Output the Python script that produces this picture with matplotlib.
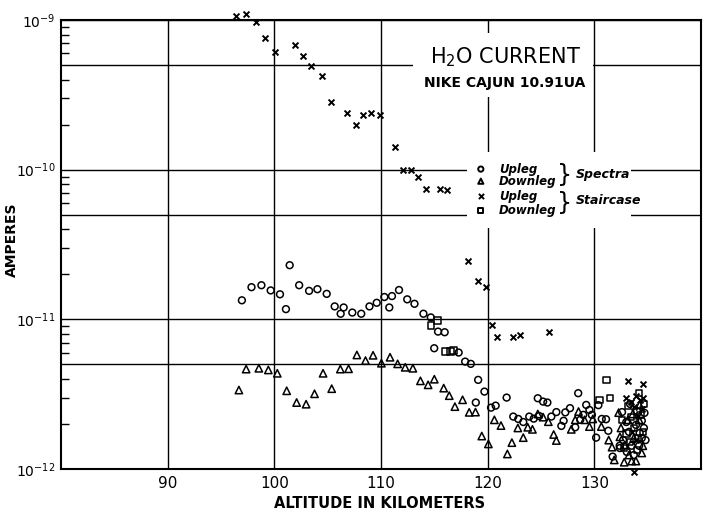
import matplotlib
matplotlib.use("Agg")
import matplotlib.pyplot as plt
from matplotlib.patches import Rectangle
from matplotlib.ticker import FixedLocator, NullFormatter

# -------- DATA -------- #
# Spectra, upleg (circles)
spec_up_alt = [96.96, 97.86, 98.79, 99.66, 100.53, 101.09, 101.44, 102.33, 103.26, 104.04,
               104.91, 105.66, 106.22, 106.50, 107.31, 108.15, 108.92, 109.60, 110.32, 110.78,
               111.03, 111.69, 112.46, 113.14, 113.98, 114.67, 115.35, 115.97, 114.99, 117.28,
               117.89, 118.42, 119.11, 119.70, 118.89, 120.32, 120.75, 121.78, 122.40, 122.87,
               123.34, 123.90, 124.32, 124.70, 125.20, 125.60, 124.83, 125.97, 126.44, 126.91,
               127.12, 127.28, 127.72, 128.49, 129.24, 129.54, 129.77, 128.96, 128.21, 128.68,
               130.17, 130.38, 130.70, 131.10, 131.31, 131.72, 132.38,
               132.6, 133.0, 133.25, 132.7, 133.5, 133.9, 134.25, 134.45, 134.45, 134.2,
               134.7, 134.65, 133.05, 133.7, 132.4, 133.35, 134.0, 134.8]
spec_up_amp = [1.34e-11, 1.64e-11, 1.69e-11, 1.56e-11, 1.47e-11, 1.17e-11, 2.30e-11, 1.69e-11, 1.55e-11, 1.59e-11,
               1.48e-11, 1.22e-11, 1.09e-11, 1.20e-11, 1.11e-11, 1.09e-11, 1.22e-11, 1.29e-11, 1.41e-11, 1.20e-11,
               1.43e-11, 1.57e-11, 1.36e-11, 1.27e-11, 1.09e-11, 1.03e-11, 8.28e-12, 8.20e-12, 6.41e-12, 6.0e-12,
               5.22e-12, 5.04e-12, 3.94e-12, 3.29e-12, 2.78e-12, 2.57e-12, 2.65e-12, 3.0e-12, 2.24e-12, 2.16e-12,
               2.06e-12, 2.24e-12, 2.17e-12, 2.97e-12, 2.82e-12, 2.78e-12, 2.26e-12, 2.24e-12, 2.40e-12, 1.94e-12,
               2.10e-12, 2.39e-12, 2.55e-12, 3.21e-12, 2.68e-12, 2.48e-12, 2.30e-12, 2.30e-12, 1.90e-12, 2.13e-12,
               1.62e-12, 2.67e-12, 2.16e-12, 2.15e-12, 1.80e-12, 1.21e-12, 1.43e-12,
               2.40e-12, 2.06e-12, 1.77e-12, 1.56e-12, 1.43e-12, 1.97e-12, 1.74e-12, 2.10e-12, 1.61e-12, 1.43e-12,
               2.37e-12, 1.88e-12, 1.30e-12, 1.24e-12, 1.38e-12, 2.72e-12, 2.44e-12, 1.56e-12]

# Spectra, downleg (triangles)
spec_dn_alt = [96.68, 97.36, 98.55, 99.44, 100.28, 101.16, 102.09, 102.98, 103.77, 104.57,
               105.38, 106.19, 106.96, 107.74, 108.55, 109.26, 110.04, 110.85, 111.56, 112.27,
               112.99, 113.70, 114.42, 115.00, 115.88, 116.40, 116.93, 117.65, 118.27, 118.86,
               119.45, 120.07, 120.63, 121.25, 121.85, 122.27, 122.83, 123.34, 123.76, 124.20,
               124.70, 125.20, 125.69, 126.19, 126.44, 127.84, 128.21, 128.52, 129.08, 129.54,
               129.86, 130.66, 131.35, 131.66, 131.87, 132.28,
               132.5, 132.85, 133.25, 132.8, 133.5, 133.9, 134.45, 133.15, 133.7, 134.2,
               134.55, 132.4, 133.6, 134.25]
spec_dn_amp = [3.37e-12, 4.65e-12, 4.71e-12, 4.59e-12, 4.36e-12, 3.33e-12, 2.78e-12, 2.71e-12, 3.18e-12, 4.36e-12,
               3.44e-12, 4.65e-12, 4.67e-12, 5.78e-12, 5.30e-12, 5.75e-12, 5.09e-12, 5.58e-12, 5.04e-12, 4.78e-12,
               4.71e-12, 3.88e-12, 3.65e-12, 3.98e-12, 3.47e-12, 3.09e-12, 2.61e-12, 2.90e-12, 2.39e-12, 2.40e-12,
               1.66e-12, 1.47e-12, 2.13e-12, 1.95e-12, 1.26e-12, 1.50e-12, 1.88e-12, 1.62e-12, 1.90e-12, 1.84e-12,
               2.33e-12, 2.22e-12, 2.07e-12, 1.70e-12, 1.55e-12, 1.84e-12, 2.13e-12, 2.42e-12, 2.13e-12, 1.92e-12,
               2.16e-12, 1.92e-12, 1.56e-12, 1.40e-12, 1.15e-12, 2.38e-12,
               1.88e-12, 1.45e-12, 1.24e-12, 1.11e-12, 1.13e-12, 1.13e-12, 1.28e-12, 2.13e-12, 1.61e-12, 2.13e-12,
               1.43e-12, 1.64e-12, 2.33e-12, 2.68e-12]

# Staircase, upleg (x)
stair_up_alt = [96.40, 97.30, 98.32, 99.11, 100.09, 101.90, 102.65, 103.45, 104.45, 105.31,
                106.84, 107.64, 108.36, 109.08, 109.94, 111.28, 112.09, 112.77, 113.46, 114.20,
                115.51, 116.19, 118.12, 119.05, 119.89, 120.38, 120.85, 122.40, 123.02, 125.76,
                133.18, 134.52, 133.68,
                133.0, 133.45, 133.9, 134.25, 134.55, 133.7, 134.1, 134.45, 133.5, 133.9]
stair_up_amp = [1.06e-9, 1.09e-9, 9.7e-10, 7.6e-10, 6.1e-10, 6.8e-10, 5.75e-10, 4.9e-10, 4.2e-10, 2.85e-10,
                2.38e-10, 1.99e-10, 2.31e-10, 2.38e-10, 2.33e-10, 1.41e-10, 9.95e-11, 9.95e-11, 8.97e-11, 7.43e-11,
                7.43e-11, 7.31e-11, 2.47e-11, 1.80e-11, 1.64e-11, 9.1e-12, 7.66e-12, 7.66e-12, 7.83e-12, 8.28e-12,
                3.87e-12, 3.68e-12, 9.5e-13,
                2.98e-12, 2.81e-12, 3.08e-12, 2.90e-12, 2.98e-12, 2.60e-12, 2.26e-12, 2.52e-12, 1.77e-12, 1.56e-12]

# Staircase, downleg (squares)
stair_dn_alt = [115.32, 114.67, 116.03, 116.50, 116.81, 131.16, 131.47, 130.48, 134.18,
                132.6, 133.0, 133.35, 133.7, 134.1, 134.35, 134.65, 133.45, 132.8, 134.0,
                133.15, 134.55]
stair_dn_amp = [9.8e-12, 9.08e-12, 6.08e-12, 6.08e-12, 6.18e-12, 3.94e-12, 2.97e-12, 2.90e-12, 3.21e-12,
                2.13e-12, 1.72e-12, 1.52e-12, 1.88e-12, 1.61e-12, 2.30e-12, 2.72e-12, 2.23e-12, 1.38e-12, 1.34e-12,
                2.64e-12, 1.77e-12]

x_ticks = [90, 100, 110, 120, 130]
y_grid = [1e-12, 5e-12, 1e-11, 5e-11, 1e-10, 5e-10, 1e-9]
decades = [1e-12, 1e-11, 1e-10, 1e-9]
decade_labels = ["$10^{-12}$", "$10^{-11}$", "$10^{-10}$", "$10^{-9}$"]

plt.rcParams['font.family'] = ['DejaVu Sans']
plt.rcParams['mathtext.fontset'] = 'dejavusans'

fig = plt.figure(figsize=(7.05, 5.16), dpi=100)
ax = fig.add_axes([0.0865, 0.0911, 0.9078, 0.8701])

ax.set_yscale('log')
ax.set_xlim(80, 140)
ax.set_ylim(1e-12, 1e-9)

# grid from major ticks, tick marks hidden
ax.xaxis.set_major_locator(FixedLocator(x_ticks))
ax.set_xticklabels([str(t) for t in x_ticks])
ax.yaxis.set_major_locator(FixedLocator(y_grid))
ax.yaxis.set_minor_locator(FixedLocator([m * d for d in decades[:-1] for m in range(2, 10)]))
ax.yaxis.set_minor_formatter(NullFormatter())
ax.set_yticklabels([decade_labels[decades.index(v)] if v in decades else "" for v in y_grid])
ax.tick_params(axis='x', which='major', length=0, labelsize=11, pad=5)
ax.tick_params(axis='y', which='major', length=0, labelsize=10, pad=4)
ax.tick_params(axis='y', which='minor', direction='in', length=6, width=1)
ax.tick_params(axis='x', which='minor', length=0)
ax.set_axisbelow(True)
ax.grid(True, which='major', color='black', linewidth=1.0)
for s in ax.spines.values():
    s.set_linewidth(1.5)

# white patches that break the grid behind the title and key
ax.add_patch(Rectangle((0.55, 0.829), 0.281, 0.142, transform=ax.transAxes,
                       facecolor='white', edgecolor='none', zorder=1))
ax.add_patch(Rectangle((0.634, 0.537), 0.257, 0.169, transform=ax.transAxes,
                       facecolor='white', edgecolor='none', zorder=1))

mk = dict(facecolors='none', edgecolors='black', linewidths=1.1, clip_on=False, zorder=3)
ax.scatter(spec_up_alt, spec_up_amp, marker='o', s=24, **mk)
ax.scatter(spec_dn_alt, spec_dn_amp, marker='^', s=28, **mk)
ax.scatter(stair_dn_alt, stair_dn_amp, marker='s', s=22, **mk)
ax.scatter(stair_up_alt, stair_up_amp, marker='x', s=18, color='black', linewidths=1.4,
           clip_on=False, zorder=3)

# title block
ax.text(0.695, 0.918, "H$_2$O CURRENT", transform=ax.transAxes, ha='center', va='center',
        fontsize=15, zorder=4)
ax.text(0.694, 0.860, "NIKE CAJUN 10.91UA", transform=ax.transAxes, ha='center', va='center',
        fontsize=10, fontweight='bold', zorder=4)

# hand-drawn key
key_rows = [(0.668, 'o', "Upleg"), (0.641, '^', "Downleg"), (0.607, 'x', "Upleg"), (0.576, 's', "Downleg")]
for yk, m, txt in key_rows:
    if m == 'x':
        ax.scatter([0.656], [yk], marker='x', s=14, color='black', linewidths=1.4,
                   transform=ax.transAxes, zorder=4)
    else:
        ax.scatter([0.656], [yk], marker=m, s=14, facecolors='none', edgecolors='black',
                   linewidths=1.4, transform=ax.transAxes, zorder=4)
    ax.text(0.684, yk, txt, transform=ax.transAxes, ha='left', va='center',
            fontsize=8.5, fontstyle='italic', fontweight='bold', zorder=4)
ax.text(0.787, 0.654, "}", transform=ax.transAxes, ha='center', va='center', fontsize=17, zorder=4)
ax.text(0.787, 0.592, "}", transform=ax.transAxes, ha='center', va='center', fontsize=17, zorder=4)
ax.text(0.804, 0.656, "Spectra", transform=ax.transAxes, ha='left', va='center',
        fontsize=9, fontstyle='italic', fontweight='bold', zorder=4)
ax.text(0.804, 0.597, "Staircase", transform=ax.transAxes, ha='left', va='center',
        fontsize=9, fontstyle='italic', fontweight='bold', zorder=4)

ax.set_xlabel("ALTITUDE IN KILOMETERS", fontsize=10.5, fontweight='bold')
ax.set_ylabel("AMPERES", fontsize=10, fontweight='bold')
ax.xaxis.set_label_coords(0.498, -0.06)
ax.yaxis.set_label_coords(-0.066, 0.51)

fig.savefig("out.png", dpi=100)
